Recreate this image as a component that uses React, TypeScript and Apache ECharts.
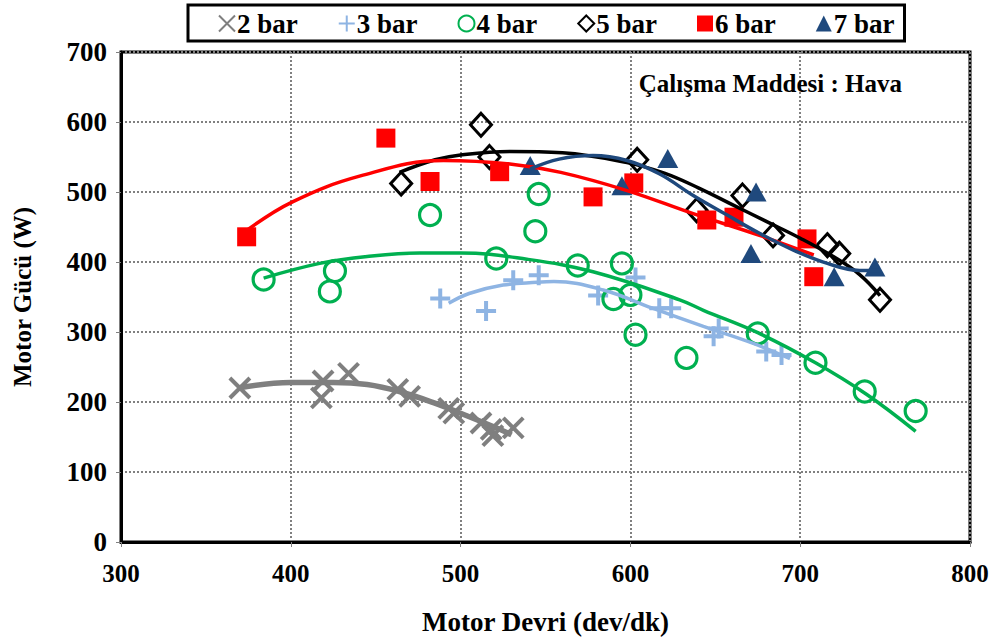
import React, { useEffect, useRef } from "react";
import * as echarts from "echarts";

// Measured points: [Motor Devri (dev/dk), Motor Gücü (W)]
const bar2Points: [number, number][] = [
  [370, 220], [419, 230], [418, 206], [434, 241], [463, 218], [470, 208],
  [493, 191], [496, 184], [512, 170], [518, 161], [519, 152], [531, 163],
];
const bar3Points: [number, number][] = [
  [488, 348], [515, 330], [531, 374], [546, 381], [581, 352], [603, 378],
  [617, 334], [624, 334], [649, 294], [652, 305], [680, 272], [689, 267],
];
const bar4Points: [number, number][] = [
  [384, 375], [423, 358], [426, 387], [482, 467], [521, 405], [544, 444],
  [546, 497], [569, 395], [590, 347], [595, 398], [600, 353], [603, 296],
  [633, 263], [675, 298], [709, 256], [738, 215], [768, 187],
];
const bar5Points: [number, number][] = [
  [465, 512], [512, 596], [517, 550], [604, 546], [639, 474], [666, 495],
  [684, 438], [716, 424], [723, 412], [747, 346],
];
const bar6Points: [number, number][] = [
  [374, 436], [456, 577], [482, 515], [523, 529], [578, 493], [602, 513],
  [645, 460], [661, 464], [704, 433], [708, 379],
];
const bar7Points: [number, number][] = [
  [541, 538], [595, 509], [622, 548], [674, 500], [671, 412], [720, 379],
  [744, 393],
];

// Trend lines
const bar2Trend: [number, number][] = [
  [369, 220], [400, 228], [425, 228], [445, 225], [464, 215], [484, 199],
  [504, 180], [523, 161], [530, 153],
];
const bar3Trend: [number, number][] = [
  [493, 341], [505, 355], [525, 367], [545, 371], [555, 372], [584, 360],
  [613, 334], [643, 308], [672, 284], [694, 262],
];
const bar4Trend: [number, number][] = [
  [384, 377], [417, 398], [445, 408], [476, 413], [500, 413], [539, 404],
  [578, 386], [629, 346], [643, 331], [675, 299], [709, 256], [739, 211],
  [768, 158],
];
const bar5Trend: [number, number][] = [
  [464, 528], [485, 546], [500, 553], [529, 558], [560, 556], [598, 542],
  [620, 527], [640, 506], [660, 482], [680, 458], [700, 434], [720, 407],
  [735, 382], [747, 352],
];
const bar6Trend: [number, number][] = [
  [374, 445], [401, 486], [441, 523], [490, 545], [529, 540], [559, 528],
  [598, 502], [637, 469], [676, 438], [708, 410],
];
const bar7Trend: [number, number][] = [
  [541, 533], [558, 547], [578, 552], [598, 545], [617, 526], [637, 495],
  [657, 467], [676, 441], [696, 417], [716, 398], [735, 388], [747, 388],
];

const seriesNames = ["2 bar", "3 bar", "4 bar", "5 bar", "6 bar", "7 bar"];
const xTicks = { min: 300, max: 800, interval: 100 };
const yTicks = { min: 0, max: 700, interval: 100 };
const xTitle = "Motor Devri (dev/dk)";
const yTitle = "Motor Gücü (W)";
const noteText = "Çalışma Maddesi : Hava";

const FONT = "'Liberation Serif', 'Times New Roman', serif";

export default function App() {
  const ref = useRef<HTMLDivElement>(null);

  useEffect(() => {
    if (!ref.current) return;
    const chart = echarts.init(ref.current, null, { renderer: "svg" });

    const colors = ["#7F7F7F", "#8EB4E3", "#00B050", "#000000", "#FF0000", "#1F497D"];
    const points = [bar2Points, bar3Points, bar4Points, bar5Points, bar6Points, bar7Points];
    const trends = [bar2Trend, bar3Trend, bar4Trend, bar5Trend, bar6Trend, bar7Trend];
    const symbols = [
      "path://M0,0L10,10M10,0L0,10",
      "path://M5,0L5,10M0,5L10,5",
      "circle",
      "diamond",
      "rect",
      "triangle",
    ];
    const sizes: any[] = [20, 20, 21, [21, 23], 19, [21, 19]];
    const filled = [false, false, false, false, true, true];
    const strokeW = [4, 4, 3.2, 3, 0, 0];
    const lineW = [5.5, 3.5, 3.5, 3.5, 3.5, 3.5];

    const scatterSeries = seriesNames.map((name, i) => ({
      name,
      type: "scatter",
      data: points[i],
      symbol: symbols[i],
      symbolSize: sizes[i],
      z: 2,
      itemStyle: filled[i]
        ? { color: colors[i], borderWidth: 0, opacity: 1 }
        : {
            color: "rgba(255,255,255,0)",
            borderColor: colors[i],
            borderWidth: strokeW[i],
            opacity: 1,
          },
    }));

    const lineSeries = seriesNames.map((name, i) => ({
      name: name + " trend",
      type: "line",
      data: trends[i],
      smooth: 0.4,
      showSymbol: false,
      symbol: "none",
      z: 3,
      lineStyle: { color: colors[i], width: lineW[i] },
    }));

    chart.setOption({
      animation: false,
      backgroundColor: "#ffffff",
      textStyle: { fontFamily: FONT },
      title: {
        text: noteText,
        right: 88,
        top: 66,
        textStyle: { fontFamily: FONT, fontSize: 25, fontWeight: "bold", color: "#000" },
      },
      legend: {
        data: seriesNames,
        left: 188,
        top: 5,
        width: 780,
        padding: [5, 10, 4, 30],
        itemGap: 40,
        itemWidth: 16,
        itemHeight: 16,
        borderColor: "#000",
        borderWidth: 3,
        backgroundColor: "#fff",
        textStyle: { fontFamily: FONT, fontSize: 27, fontWeight: "bold", color: "#000", padding: [0, 0, 0, -3] },
      },
      grid: {
        left: 121,
        right: 25,
        top: 52,
        bottom: 102,
        show: true,
        borderColor: "#000",
        borderWidth: 3,
        backgroundColor: "#fff",
      },
      xAxis: {
        type: "value",
        min: xTicks.min,
        max: xTicks.max,
        interval: xTicks.interval,
        name: xTitle,
        nameLocation: "middle",
        nameGap: 66,
        nameTextStyle: { fontFamily: FONT, fontSize: 27, fontWeight: "bold", color: "#000" },
        axisLine: { show: true, lineStyle: { color: "#000", width: 3 } },
        axisTick: { show: true, length: 5, lineStyle: { color: "#808080", width: 1 } },
        axisLabel: { margin: 19, fontFamily: FONT, fontSize: 25, fontWeight: "bold", color: "#000" },
        splitLine: { show: true, lineStyle: { color: "#808080", width: 2, type: [2, 2] } },
      },
      yAxis: {
        type: "value",
        min: yTicks.min,
        max: yTicks.max,
        interval: yTicks.interval,
        name: yTitle,
        nameLocation: "middle",
        nameRotate: 90,
        nameGap: 86,
        nameTextStyle: { fontFamily: FONT, fontSize: 25, fontWeight: "bold", color: "#000" },
        axisLine: { show: true, lineStyle: { color: "#000", width: 3 } },
        axisTick: { show: true, length: 5, lineStyle: { color: "#808080", width: 1 } },
        axisLabel: { margin: 14, fontFamily: FONT, fontSize: 27, fontWeight: "bold", color: "#000" },
        splitLine: { show: true, lineStyle: { color: "#808080", width: 2, type: [2, 2] } },
      },
      series: [...scatterSeries, ...lineSeries],
    });

    return () => chart.dispose();
  }, []);

  return (
    <div
      ref={ref}
      style={{ position: "fixed", left: 0, top: 0, width: 995, height: 644, background: "#fff" }}
    />
  );
}
